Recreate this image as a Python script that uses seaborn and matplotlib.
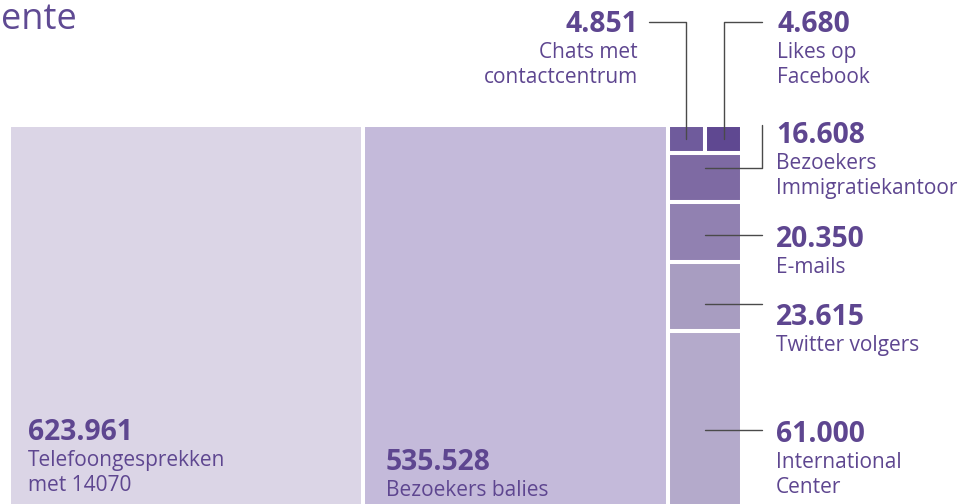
import matplotlib
matplotlib.use("Agg")
import matplotlib.pyplot as plt
from matplotlib.patches import Rectangle
import seaborn as sns

# --- data -------------------------------------------------------------
big_labels = ["Telefoongesprekken\nmet 14070", "Bezoekers balies"]
big_values = [623961, 535528]
big_colors = ["#dbd5e6", "#c4bada"]

top_labels = ["Chats met\ncontactcentrum", "Likes op\nFacebook"]
top_values = [4851, 4680]
top_colors = ["#6f5b9c", "#5f4891"]

col_labels = ["Bezoekers\nImmigratiekantoor", "E-mails", "Twitter volgers",
              "International\nCenter"]
col_values = [16608, 20350, 23615, 61000]
col_colors = ["#7e6aa3", "#9181b1", "#a89dc1", "#b4aacb"]

TITLE_TAIL = "ente"

# --- style ------------------------------------------------------------
sns.set_theme(style="white")
plt.rcParams["font.family"] = ["Open Sans", "DejaVu Sans"]
INK = "#5e4690"
LINE = "#4a4a4a"
NUM_SIZE = 20.3
LBL_SIZE = 15


def fmt(v):
    return f"{v:,}".replace(",", ".")


# --- treemap layout (x in value units, y as fraction of height) --------
col_total = sum(top_values) + sum(col_values)
total = sum(big_values) + col_total

tiles = []  # (x0, x1, y0, y1, color, key)
x = 0
for i, v in enumerate(big_values):
    tiles.append((x, x + v, 0.0, 1.0, big_colors[i], ("big", i)))
    x += v
col_x0, col_x1 = x, total
row_h = sum(top_values) / col_total
tx = col_x0
for i, v in enumerate(top_values):
    w = col_total * v / sum(top_values)
    tiles.append((tx, tx + w, 0.0, row_h, top_colors[i], ("top", i)))
    tx += w
y = row_h
for i, v in enumerate(col_values):
    h = v / col_total
    tiles.append((col_x0, col_x1, y, y + h, col_colors[i], ("col", i)))
    y += h

# --- figure -------------------------------------------------------------
fig = plt.figure(figsize=(9.78, 5.04), dpi=100)
fig.patch.set_facecolor("white")
ax = fig.add_axes([9 / 978, -6 / 504, 733 / 978, 385 / 504])
ax.set_xlim(0, total)
ax.set_ylim(1, 0)
ax.axis("off")

centers = {}
for x0, x1, y0, y1, c, key in tiles:
    ax.add_patch(Rectangle((x0, y0), x1 - x0, y1 - y0, facecolor=c,
                           edgecolor="white", linewidth=2.9, clip_on=False))
    centers[key] = ((x0 + x1) / 2, (y0 + y1) / 2)

ov = fig.add_axes([0, 0, 1, 1])
ov.set_zorder(3)
ov.set_xlim(0, 978)
ov.set_ylim(504, 0)
ov.axis("off")
ov.patch.set_alpha(0)


def to_px(pt):
    return ov.transData.inverted().transform(ax.transData.transform(pt))


def label(xp, base, value, text, ha="left"):
    ov.text(xp, base, fmt(value), ha=ha, va="baseline", color=INK,
            fontsize=NUM_SIZE, fontweight="bold")
    for k, line in enumerate(text.split("\n")):
        ov.text(xp, base + 26 + 25 * k, line, ha=ha, va="baseline",
                color=INK, fontsize=LBL_SIZE)


# title fragment
ov.text(1, 29, TITLE_TAIL, ha="left", va="baseline", color="#5f4a93",
        fontsize=26)

# labels inside the two large tiles
label(28, 440, big_values[0], big_labels[0])
label(386, 470, big_values[1], big_labels[1])

# top row labels with elbow leaders
cx, cy = to_px(centers[("top", 0)])
label(638, 32, top_values[0], top_labels[0], ha="right")
ov.plot([649, cx, cx], [22, 22, cy], color=LINE, lw=1.0)
cx, cy = to_px(centers[("top", 1)])
label(777, 32, top_values[1], top_labels[1])
ov.plot([cx, cx, 762], [cy, 22, 22], color=LINE, lw=1.0)

# right column labels
col_bases = [143, 247, 325, 442]
col_lines = [168, 235, 304, 430]
for i in range(len(col_values)):
    cx, _ = to_px(centers[("col", i)])
    label(776, col_bases[i], col_values[i], col_labels[i])
    if i == 0:
        ov.plot([cx, 762, 762], [col_lines[i], col_lines[i], 125],
                color=LINE, lw=1.0)
    else:
        ov.plot([cx, 762], [col_lines[i], col_lines[i]], color=LINE, lw=1.0)

fig.savefig("out.png", dpi=100, facecolor="white")
